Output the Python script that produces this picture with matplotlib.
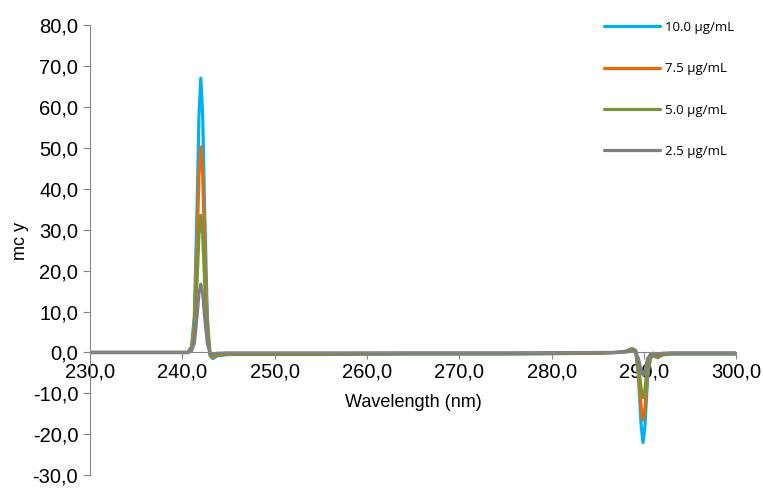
import matplotlib
matplotlib.use("Agg")
import matplotlib.pyplot as plt
from matplotlib.ticker import FuncFormatter

# wavelength grid (nm) - denser around the two bands
wavelength = [230.0, 235.0, 240.0, 240.6, 241.0, 241.3, 241.6, 241.8, 242.0, 242.2, 242.4,
              242.7, 243.0, 243.3, 243.8, 245.0, 255.0, 265.0, 275.0, 285.0, 287.0, 288.0,
              288.7, 289.1, 289.4, 289.7, 289.9, 290.1, 290.4, 290.7, 291.0, 291.5, 292.0,
              293.0, 300.0]

c10 = [0.0, 0.0, 0.0, 0.0, 1.5, 9.0, 36.0, 58.0, 67.0, 58.0, 36.0,
       9.0, -0.8, -1.5, -0.8, -0.5, -0.5, -0.4, -0.4, -0.2, 0.0, 0.3,
       1.0, 0.5, -6.0, -18.0, -22.0, -18.0, -6.0, -1.5, -0.8, -1.3, -0.6,
       -0.4, -0.4]
c75 = [0.0, 0.0, 0.0, 0.0, 1.1, 6.8, 27.0, 43.5, 50.2, 43.5, 27.0,
       6.8, -0.6, -1.2, -0.6, -0.4, -0.4, -0.3, -0.3, -0.2, 0.0, 0.2,
       0.8, 0.4, -4.5, -13.5, -16.5, -13.5, -4.5, -1.2, -0.6, -1.1, -0.5,
       -0.3, -0.3]
c50 = [0.0, 0.0, 0.0, 0.0, 0.8, 4.5, 18.0, 29.0, 33.5, 29.0, 18.0,
       4.5, -0.4, -0.8, -0.4, -0.3, -0.3, -0.2, -0.2, -0.1, 0.0, 0.2,
       0.5, 0.3, -3.0, -9.0, -11.0, -9.0, -3.0, -0.8, -0.4, -0.7, -0.3,
       -0.2, -0.2]
c25 = [0.0, 0.0, 0.0, 0.0, 0.4, 2.3, 9.0, 14.5, 16.7, 14.5, 9.0,
       2.3, -0.2, -0.4, -0.2, -0.1, -0.1, -0.1, -0.1, 0.0, 0.0, 0.1,
       0.3, 0.1, -1.5, -4.5, -5.5, -4.5, -1.5, -0.4, -0.2, -0.4, -0.2,
       -0.1, -0.1]

labels = ["10.0 µg/mL", "7.5 µg/mL", "5.0 µg/mL", "2.5 µg/mL"]
colors = ["#00B0F0", "#E46C0A", "#77933C", "#7F7F7F"]

plt.rcParams['font.family'] = ['Liberation Sans', 'DejaVu Sans']

fig = plt.figure(figsize=(7.63, 4.88), dpi=100)
ax = fig.add_axes([0.118, 0.026, 0.847, 0.923])

for y, lab, col in zip([c10, c75, c50, c25], labels, colors):
    ax.plot(wavelength, y, color=col, lw=2.3, label=lab, solid_capstyle="round")

ax.set_xlim(230, 300)
ax.set_ylim(-30, 80)
ax.set_xticks(range(230, 301, 10))
ax.set_yticks(range(-30, 81, 10))
fmt = FuncFormatter(lambda v, p: ("%.1f" % v).replace(".", ","))
ax.xaxis.set_major_formatter(fmt)
ax.yaxis.set_major_formatter(fmt)

ax.spines['top'].set_visible(False)
ax.spines['right'].set_visible(False)
ax.spines['bottom'].set_position(('data', 0))
ax.spines['bottom'].set_color("#868686")
ax.spines['left'].set_color("#868686")
ax.tick_params(axis='both', colors="#868686", labelcolor="black", labelsize=14.5,
               length=5, direction='out')
ax.tick_params(axis='x', pad=2)

ax.set_xlabel("Wavelength (nm)", fontsize=13)
ax.xaxis.set_label_coords(0.5, 0.18)
ax.set_ylabel("mc y", fontsize=13)
ax.yaxis.set_label_coords(-0.095, 0.52)

leg = ax.legend(loc="upper right", bbox_to_anchor=(1.015, 1.035), frameon=False,
                prop={'family': 'Open Sans', 'size': 9.5}, handlelength=4.2,
                labelspacing=2.15, handletextpad=0.4)

fig.savefig("out.png", dpi=100)
